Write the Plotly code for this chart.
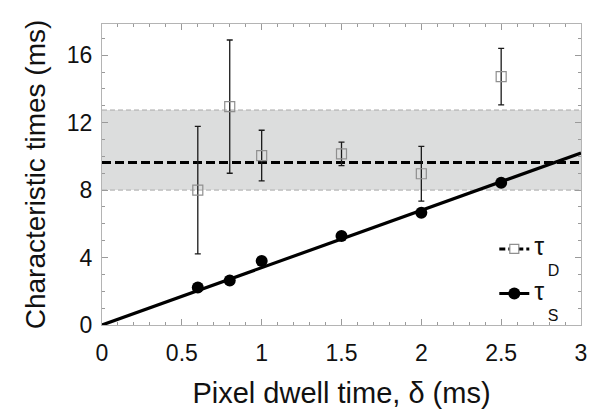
import plotly.graph_objects as go

# Data
dwell = [0.6, 0.8, 1.0, 1.5, 2.0, 2.5]
tau_d = [8.0, 12.95, 10.05, 10.15, 8.97, 14.73]
tau_d_err = [3.78, 3.95, 1.5, 0.7, 1.62, 1.68]
tau_s = [2.22, 2.64, 3.8, 5.28, 6.65, 8.43]
fit_slope = 3.4
fit_x = [0.0, 3.0]
tau_d_mean = 9.64
band_low, band_high = 8.0, 12.75
x_ticks = [0, 0.5, 1, 1.5, 2, 2.5, 3]
y_ticks = [0, 4, 8, 12, 16]

FONT = "Liberation Sans, Arial, sans-serif"
INK = "#111111"
FRAME = "#b4b4b4"

fig = go.Figure()

# shaded band
fig.add_shape(type="rect", xref="paper", x0=0, x1=1, yref="y", y0=band_low, y1=band_high,
              fillcolor="#dcdddd", line=dict(width=0), layer="below")
for yv in (band_low, band_high):
    fig.add_shape(type="line", xref="paper", x0=0, x1=1, yref="y", y0=yv, y1=yv,
                  line=dict(color="#a8a8a8", width=1, dash="5px,3px"), layer="below")

# mean line of tau_D
fig.add_trace(go.Scatter(x=fit_x, y=[tau_d_mean, tau_d_mean], mode="lines",
                         line=dict(color="black", width=3, dash="9px,4px"),
                         showlegend=False, hoverinfo="skip"))

# fit line of tau_S
fig.add_trace(go.Scatter(x=fit_x, y=[fit_slope * v for v in fit_x], mode="lines",
                         line=dict(color="black", width=3.2),
                         showlegend=False, hoverinfo="skip"))

# tau_D points
fig.add_trace(go.Scatter(x=dwell, y=tau_d, mode="markers",
                         marker=dict(symbol="square-open", size=10, color="#8f8f8f", line=dict(width=1.2)),
                         error_y=dict(type="data", array=tau_d_err, color="#1a1a1a", thickness=1.3, width=3),
                         showlegend=False))

# tau_S points
fig.add_trace(go.Scatter(x=dwell, y=tau_s, mode="markers",
                         marker=dict(symbol="circle", size=12, color="black"),
                         showlegend=False))

# legend-only traces
NB = "\u00a0"
fig.add_trace(go.Scatter(x=[None], y=[None], mode="lines+markers",
                         name="<span style='font-size:25px'>τ</span><br>" + NB * 3 + "D",
                         legendgroup="d",
                         line=dict(color="black", width=3, dash="6px,3px"),
                         marker=dict(symbol="square", size=9, color="white",
                                     line=dict(color="#8f8f8f", width=1.2))))
fig.add_trace(go.Scatter(x=[None], y=[None], mode="lines+markers",
                         name="<span style='font-size:25px'>τ</span><br>" + NB * 3 + "S",
                         legendgroup="s",
                         line=dict(color="black", width=3.2),
                         marker=dict(symbol="circle", size=12, color="black")))

axis_common = dict(showline=True, linecolor=FRAME, linewidth=1, mirror="ticks",
                   ticks="inside", tickcolor="#9a9a9a", ticklen=6, showgrid=False, zeroline=False,
                   automargin=False,
                   tickfont=dict(family=FONT, size=23, color=INK))

fig.update_xaxes(range=[0, 3], tickvals=x_ticks, ticktext=[f"{v:g}" for v in x_ticks],
                 ticklabelstandoff=7,
                 minor=dict(dtick=0.1, ticks="inside", ticklen=3, tickcolor="#9a9a9a"),
                 title=dict(text="Pixel dwell time, δ (ms)", font=dict(family=FONT, size=29, color=INK),
                            standoff=18),
                 **axis_common)
fig.update_yaxes(range=[0, 17.85], tickvals=y_ticks,
                 ticklabelstandoff=4,
                 minor=dict(dtick=1, ticks="inside", ticklen=3, tickcolor="#9a9a9a"),
                 title=dict(text="Characteristic times (ms)", font=dict(family=FONT, size=28, color=INK),
                            standoff=13),
                 **axis_common)

fig.update_layout(
    width=589, height=412,
    margin=dict(l=102, r=8, t=24, b=87),
    plot_bgcolor="white", paper_bgcolor="white",
    font=dict(family=FONT, color=INK),
    legend=dict(x=0.819, y=0.309, xanchor="left", yanchor="top", bgcolor="rgba(0,0,0,0)",
                font=dict(family=FONT, size=16, color=INK), valign="top", tracegroupgap=0),
)

fig.write_html("out.html")
